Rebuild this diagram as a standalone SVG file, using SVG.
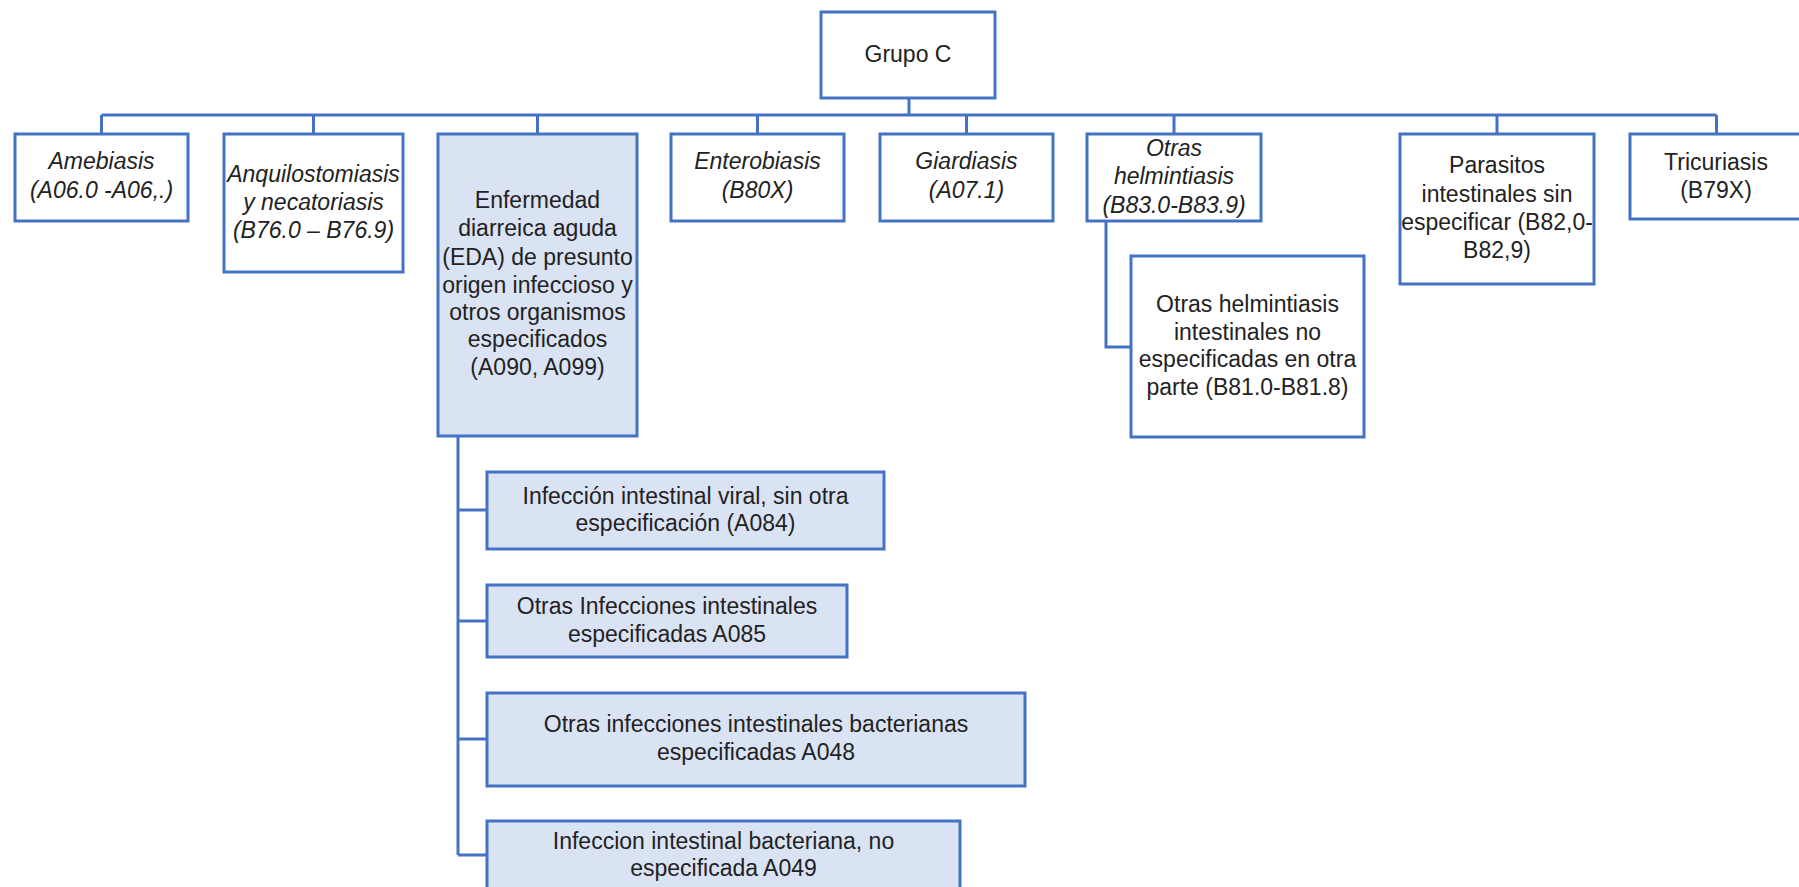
<svg xmlns="http://www.w3.org/2000/svg" width="1799" height="887" viewBox="0 0 1799 887">
<style>
.box{fill:#ffffff;stroke:#4472c4;stroke-width:3}
.fill{fill:#dae3f3}
.t{font-family:"Liberation Sans",Arial,sans-serif;font-size:23px;fill:#222222;text-anchor:middle}
.i{font-style:italic}
.c{fill:none;stroke:#4472c4;stroke-width:3}
</style>
<rect width="1799" height="887" fill="#ffffff"/>
<g id="connectors">
<path class="c" d="M909,98 V115 M101.5,115 H1716.5 M101.5,115 V134 M313.5,115 V134 M537.5,115 V134 M757.5,115 V134 M966.5,115 V134 M1174,115 V134 M1497,115 V134 M1716.5,115 V134"/>
<path class="c" d="M458,436 V855 M458,510 H487 M458,621 H487 M458,739 H487 M458,855 H487"/>
<path class="c" d="M1106,221 V347 H1131"/>
</g>
<g id="grupo-c">
<rect class="box" x="821" y="12" width="174" height="86"/>
<text class="t" x="908" y="62">Grupo C</text>
</g>
<g id="amebiasis">
<rect class="box" x="15" y="134" width="173" height="87"/>
<text class="t i" x="101.5" y="169">Amebiasis</text>
<text class="t i" x="101.5" y="197.5">(A06.0 -A06,.)</text>
</g>
<g id="anquilostomiasis">
<rect class="box" x="224" y="134" width="179" height="138"/>
<text class="t i" x="313.5" y="182">Anquilostomiasis</text>
<text class="t i" x="313.5" y="210">y necatoriasis</text>
<text class="t i" x="313.5" y="238">(B76.0 – B76.9)</text>
</g>
<g id="eda">
<rect class="box fill" x="438" y="134" width="199" height="302"/>
<text class="t" x="537.5" y="208">Enfermedad</text>
<text class="t" x="537.5" y="236">diarreica aguda</text>
<text class="t" x="537.5" y="264.5">(EDA) de presunto</text>
<text class="t" x="537.5" y="292.5">origen infeccioso y</text>
<text class="t" x="537.5" y="320">otros organismos</text>
<text class="t" x="537.5" y="347">especificados</text>
<text class="t" x="537.5" y="375">(A090, A099)</text>
</g>
<g id="enterobiasis">
<rect class="box" x="671" y="134" width="173" height="87"/>
<text class="t i" x="757.5" y="169">Enterobiasis</text>
<text class="t i" x="757.5" y="197.5">(B80X)</text>
</g>
<g id="giardiasis">
<rect class="box" x="880" y="134" width="173" height="87"/>
<text class="t i" x="966.5" y="169">Giardiasis</text>
<text class="t i" x="966.5" y="197.5">(A07.1)</text>
</g>
<g id="otras-helmintiasis">
<rect class="box" x="1087" y="134" width="174" height="87"/>
<text class="t i" x="1174" y="156">Otras</text>
<text class="t i" x="1174" y="184">helmintiasis</text>
<text class="t i" x="1174" y="212.5">(B83.0-B83.9)</text>
</g>
<g id="parasitos">
<rect class="box" x="1400" y="134" width="194" height="150"/>
<text class="t" x="1497" y="173">Parasitos</text>
<text class="t" x="1497" y="201.5">intestinales sin</text>
<text class="t" x="1497" y="229.5">especificar (B82,0-</text>
<text class="t" x="1497" y="257.5">B82,9)</text>
</g>
<g id="tricuriasis">
<rect class="box" x="1630" y="134" width="185" height="85"/>
<text class="t" x="1716" y="170">Tricuriasis</text>
<text class="t" x="1716" y="198">(B79X)</text>
</g>
<g id="otras-helmintiasis-intestinales">
<rect class="box" x="1131" y="256" width="233" height="181"/>
<text class="t" x="1247.5" y="311.5">Otras helmintiasis</text>
<text class="t" x="1247.5" y="339.5">intestinales no</text>
<text class="t" x="1247.5" y="367">especificadas en otra</text>
<text class="t" x="1247.5" y="395">parte (B81.0-B81.8)</text>
</g>
<g id="a084">
<rect class="box fill" x="487" y="472" width="397" height="77"/>
<text class="t" x="685.5" y="503.5">Infección intestinal viral, sin otra</text>
<text class="t" x="685.5" y="531">especificación (A084)</text>
</g>
<g id="a085">
<rect class="box fill" x="487" y="585" width="360" height="72"/>
<text class="t" x="667" y="613.5">Otras Infecciones intestinales</text>
<text class="t" x="667" y="641.5">especificadas A085</text>
</g>
<g id="a048">
<rect class="box fill" x="487" y="693" width="538" height="93"/>
<text class="t" x="756" y="732">Otras infecciones intestinales bacterianas</text>
<text class="t" x="756" y="760">especificadas A048</text>
</g>
<g id="a049">
<rect class="box fill" x="487" y="821" width="473" height="80"/>
<text class="t" x="723.5" y="848.5">Infeccion intestinal bacteriana, no</text>
<text class="t" x="723.5" y="876">especificada A049</text>
</g>
</svg>
